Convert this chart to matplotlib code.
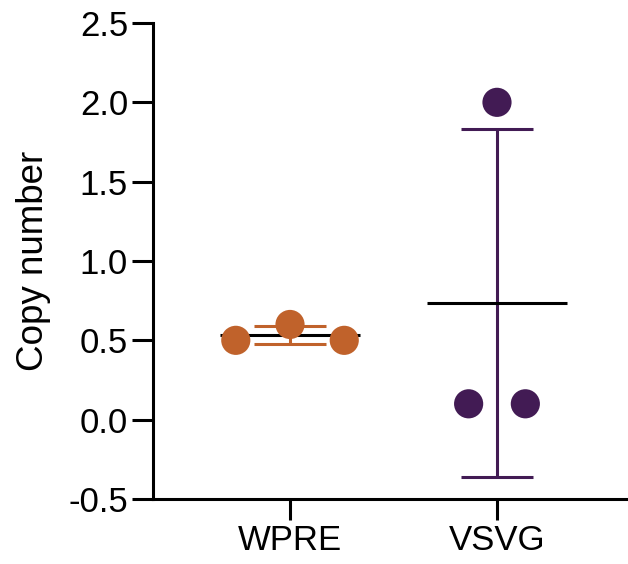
import numpy as np
import matplotlib
matplotlib.use('Agg')
import matplotlib.pyplot as plt

plt.rcParams['font.family'] = ['Liberation Sans', 'DejaVu Sans']

# datos
grupos = ['WPRE', 'VSVG']
valores_wpre = [0.5, 0.6, 0.5]
valores_vsvg = [0.1, 2.0, 0.1]
colores = ['#C0622B', '#421B54']
yticks = [-0.5, 0.0, 0.5, 1.0, 1.5, 2.0, 2.5]

# desplazamiento horizontal de cada punto (forma del enjambre)
desplazamientos = [[-0.262, 0.0, 0.262], [-0.137, 0.0, 0.137]]

fig = plt.figure(figsize=(6.28, 5.64), dpi=100)
ax = fig.add_axes([153 / 628, 65 / 564, 475 / 628, 476 / 564])

lw = 2.2
for i, (vals, color, offs) in enumerate(zip([valores_wpre, valores_vsvg], colores, desplazamientos)):
    vals = np.array(vals)
    media = vals.mean()
    sd = vals.std(ddof=1)

    # barra de error (media +/- SD)
    ax.errorbar(i, media, yerr=sd, fmt='none', ecolor=color, elinewidth=lw,
                capsize=26, capthick=lw, zorder=2)
    # linea de la media
    ax.plot([i - 0.338, i + 0.338], [media, media], color='black', lw=lw,
            solid_capstyle='butt', zorder=3)
    # puntos individuales
    ax.scatter(i + np.array(offs), vals, s=21 ** 2, color=color,
               edgecolors='none', zorder=4)

ax.set_xlim(-0.662, 1.633)
ax.set_ylim(-0.5, 2.5)
ax.set_yticks(yticks)
ax.set_yticklabels([f'{t:.1f}' for t in yticks])
ax.set_xticks(range(len(grupos)))
ax.set_xticklabels(grupos)

ax.spines['top'].set_visible(False)
ax.spines['right'].set_visible(False)
ax.spines['left'].set_linewidth(lw)
ax.spines['bottom'].set_linewidth(lw)
ax.tick_params(axis='both', width=lw, length=15, labelsize=25, color='black', pad=3)

ax.set_ylabel('Copy number', fontsize=26.5)
ax.yaxis.set_label_coords(-0.215, 0.5)

fig.savefig('out.png', dpi=100)
